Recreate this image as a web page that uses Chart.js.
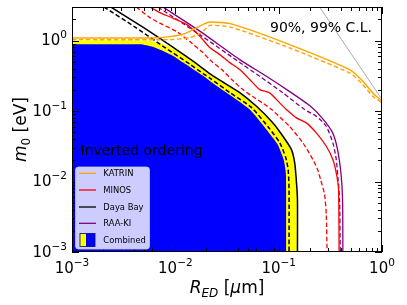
<!DOCTYPE html>
<html>
<head>
<meta charset="utf-8">
<script src="https://cdn.jsdelivr.net/npm/chart.js@4.4.1/dist/chart.umd.min.js"></script>
<style>
  html, body { margin: 0; padding: 0; background: #fff; }
  #wrap { width: 407px; height: 305px; }
</style>
</head>
<body>
<div id="wrap"><canvas id="chart" width="407" height="305"></canvas></div>
<script>
// ─── Data (R_ED in µm, m0 in eV) ─────────────────────────────
const xTickExps = [-3, -2, -1, 0];
const yTickExps = [-3, -2, -1, 0];

const katrin99R = [0.001, 0.00567, 0.00885, 0.01236, 0.01542, 0.01845, 0.02153, 0.0349, 0.1276, 0.485, 0.630, 0.815, 1.0];
const katrin99M = [1.092, 1.092, 1.14, 1.257, 1.48, 1.687, 1.84, 1.726, 0.878, 0.388, 0.280, 0.181, 0.138];
const katrin90R = [0.001, 0.00885, 0.0138, 0.01726, 0.01928, 0.02153, 0.0349, 0.1276, 0.485, 0.630, 0.815, 1.0];
const katrin90M = [1.033, 1.033, 1.103, 1.257, 1.432, 1.648, 1.544, 0.788, 0.348, 0.251, 0.162, 0.132];

const minos99R = [0.00567, 0.00708, 0.00946, 0.01291, 0.01725, 0.02154, 0.02692, 0.03363, 0.042, 0.05246, 0.06553, 0.08185, 0.1023, 0.1187, 0.1483, 0.1852, 0.2313, 0.2889, 0.3345, 0.3634, 0.38, 0.3842];
const minos99M = [3.0, 2.496, 2.085, 1.686, 1.151, 0.796, 0.633, 0.487, 0.388, 0.280, 0.2018, 0.1812, 0.1307, 0.105, 0.0801, 0.068, 0.0491, 0.0317, 0.0205, 0.01257, 0.0077, 0.001];
const minos90R = [0.0042, 0.00567, 0.00757, 0.01034, 0.01381, 0.01844, 0.02253, 0.02813, 0.03515, 0.0449, 0.05608, 0.07004, 0.08558, 0.1278, 0.1717, 0.2145, 0.238, 0.2545, 0.2782, 0.2889, 0.2941];
const minos90M = [3.0, 2.12, 1.686, 1.342, 0.968, 0.676, 0.504, 0.388, 0.280, 0.2018, 0.1606, 0.1299, 0.105, 0.0603, 0.0354, 0.0205, 0.0148, 0.01068, 0.00654, 0.0034, 0.001];

const dayaBay99R = [0.00238, 0.00485, 0.00885, 0.01603, 0.02153, 0.0269, 0.042, 0.061, 0.0881, 0.110, 0.133, 0.143, 0.148, 0.152, 0.152];
const dayaBay99M = [3.0, 1.554, 0.863, 0.472, 0.340, 0.275, 0.183, 0.117, 0.068, 0.044, 0.0284, 0.0184, 0.0107, 0.0056, 0.001];
const dayaBay90R = [0.00204, 0.00415, 0.00793, 0.0138, 0.01858, 0.0216, 0.0337, 0.0548, 0.080, 0.1023, 0.117, 0.1236, 0.126, 0.126];
const dayaBay90M = [3.0, 1.53, 0.796, 0.464, 0.340, 0.293, 0.183, 0.112, 0.0583, 0.0357, 0.0219, 0.0148, 0.0077, 0.001];

const raaKi99R = [0.00757, 0.01725, 0.042, 0.07607, 0.1278, 0.1993, 0.2661, 0.3323, 0.3715, 0.4017, 0.4154, 0.4182];
const raaKi99M = [3.0, 1.364, 0.5375, 0.3116, 0.189, 0.1197, 0.0783, 0.0495, 0.02844, 0.01257, 0.00555, 0.001];
const raaKi90R = [0.00678, 0.01725, 0.0449, 0.06553, 0.11, 0.1784, 0.2313, 0.2889, 0.3345, 0.361, 0.3757, 0.3885, 0.3946];
const raaKi90M = [3.0, 1.216, 0.4566, 0.3116, 0.1812, 0.105, 0.0844, 0.0609, 0.0354, 0.0205, 0.01068, 0.00555, 0.001];

const combined99R = [0.001, 0.00519, 0.00678, 0.00848, 0.01104, 0.0138, 0.01603, 0.02153, 0.0269, 0.042, 0.061, 0.0876, 0.1093, 0.1315, 0.1416, 0.147, 0.1503, 0.1503];
const combined99M = [1.01, 1.0, 0.937, 0.836, 0.676, 0.545, 0.47, 0.338, 0.274, 0.182, 0.116, 0.0675, 0.0437, 0.0284, 0.0184, 0.0107, 0.0056, 0.001];
const combined90R = [0.001, 0.00454, 0.0061, 0.00762, 0.00953, 0.01189, 0.01486, 0.01858, 0.02153, 0.0337, 0.0525, 0.076, 0.0977, 0.1117, 0.117, 0.1186, 0.1186];
const combined90M = [0.886, 0.886, 0.814, 0.714, 0.607, 0.488, 0.392, 0.316, 0.268, 0.169, 0.105, 0.0547, 0.0335, 0.0205, 0.01387, 0.0077, 0.001];

const grayR = [0.249, 1.0];
const grayM = [3.0, 0.146];

const legendItems = [
  { label: 'KATRIN', color: '#ffa500' },
  { label: 'MINOS', color: '#ff0000' },
  { label: 'Daya Bay', color: '#000000' },
  { label: 'RAA-KI', color: '#800080' },
  { label: 'Combined', color: null }
];

// ─── Helpers ─────────────────────────────────────────────────
const FONT = '"DejaVu Sans", sans-serif';
const pts = (xs, ys) => xs.map((x, i) => ({ x, y: ys[i] }));

function lineSet(xs, ys, color, dashed, width) {
  return {
    data: pts(xs, ys),
    borderColor: color,
    borderWidth: width || 1.3,
    borderDash: dashed ? [4.5, 2.5] : [],
    pointRadius: 0,
    fill: false,
    tension: 0.2,
    order: 1
  };
}

function areaSet(xs, ys, color, order) {
  return {
    data: pts(xs, ys),
    borderColor: 'rgba(0,0,0,0)',
    borderWidth: 0,
    backgroundColor: color,
    pointRadius: 0,
    fill: 'start',
    tension: 0.2,
    order
  };
}

// draw a sequence of text runs (mixed fonts / sub / superscripts)
function drawRuns(ctx, runs, x, y, align) {
  let total = 0;
  runs.forEach(r => { ctx.font = r.font; r.w = ctx.measureText(r.t).width; total += r.w; });
  let cx = align === 'center' ? x - total / 2 : align === 'right' ? x - total : x;
  ctx.textAlign = 'left';
  ctx.textBaseline = 'alphabetic';
  runs.forEach(r => {
    ctx.font = r.font;
    ctx.fillText(r.t, cx, y + (r.dy || 0));
    cx += r.w;
  });
}

function powRuns(e) {
  const exp = e < 0 ? '\u2212' + Math.abs(e) : String(e);
  return [
    { t: '10', font: `15px ${FONT}` },
    { t: exp, font: `10.5px ${FONT}`, dy: -7 }
  ];
}

// ─── Decorations: frame, inward ticks, labels, texts, legend ──
const decor = {
  id: 'decor',
  beforeDraw(chart) {
    const ctx = chart.ctx;
    ctx.save();
    ctx.fillStyle = '#fff';
    ctx.fillRect(0, 0, chart.width, chart.height);
    ctx.restore();
  },
  afterDraw(chart) {
    const { ctx, chartArea: a, scales: { x, y } } = chart;
    ctx.save();
    ctx.strokeStyle = '#000';
    ctx.fillStyle = '#000';
    ctx.lineWidth = 1;

    // ticks
    ctx.beginPath();
    for (let d = -3; d <= 0; d++) {
      for (let k = 1; k <= 9; k++) {
        const v = k * Math.pow(10, d);
        const len = k === 1 ? 7 : 4;
        if (v >= x.min && v <= x.max) {
          const px = Math.round(x.getPixelForValue(v)) + 0.5;
          ctx.moveTo(px, a.bottom); ctx.lineTo(px, a.bottom - len);
          ctx.moveTo(px, a.top); ctx.lineTo(px, a.top + len);
        }
        if (v >= y.min && v <= y.max) {
          const py = Math.round(y.getPixelForValue(v)) + 0.5;
          ctx.moveTo(a.left, py); ctx.lineTo(a.left + len, py);
          ctx.moveTo(a.right, py); ctx.lineTo(a.right - len, py);
        }
      }
    }
    ctx.stroke();

    // frame
    ctx.strokeRect(a.left + 0.5, a.top + 0.5, a.right - a.left - 1, a.bottom - a.top - 1);

    // tick labels
    xTickExps.forEach(e => {
      const px = x.getPixelForValue(Math.pow(10, e));
      drawRuns(ctx, powRuns(e), px, a.bottom + 21, 'center');
    });
    yTickExps.forEach(e => {
      const py = y.getPixelForValue(Math.pow(10, e));
      drawRuns(ctx, powRuns(e), a.left - 5, py + 4.5, 'right');
    });

    // axis titles
    drawRuns(ctx, [
      { t: 'R', font: `italic 17px ${FONT}` },
      { t: 'ED', font: `italic 12px ${FONT}`, dy: 3.5 },
      { t: ' [', font: `17px ${FONT}` },
      { t: '\u03bc', font: `italic 17px ${FONT}` },
      { t: 'm]', font: `17px ${FONT}` }
    ], (a.left + a.right) / 2, 293, 'center');

    ctx.save();
    ctx.translate(26, (a.top + a.bottom) / 2);
    ctx.rotate(-Math.PI / 2);
    drawRuns(ctx, [
      { t: 'm', font: `italic 17px ${FONT}` },
      { t: '0', font: `12px ${FONT}`, dy: 3.5 },
      { t: ' [eV]', font: `17px ${FONT}` }
    ], 0, 0, 'center');
    ctx.restore();

    // annotations
    ctx.font = `14px ${FONT}`;
    ctx.textAlign = 'left';
    ctx.fillText('90%, 99% C.L.', 270, 31.5);
    ctx.fillText('Inverted ordering', 80.5, 155);

    // legend
    const lx = 75, ly = 166.5, lw = 74, lh = 82;
    ctx.beginPath();
    ctx.roundRect(lx + 0.5, ly + 0.5, lw, lh, 3);
    ctx.fillStyle = 'rgba(255,255,255,0.8)';
    ctx.fill();
    ctx.strokeStyle = 'rgba(204,204,204,0.8)';
    ctx.stroke();

    const rowY = [173.3, 190, 207, 223.3, 240];
    ctx.font = `8.4px ${FONT}`;
    legendItems.forEach((it, i) => {
      const cy = rowY[i];
      if (it.color) {
        ctx.strokeStyle = it.color;
        ctx.lineWidth = 1.3;
        ctx.beginPath();
        ctx.moveTo(79, cy); ctx.lineTo(96, cy);
        ctx.stroke();
      } else {
        ctx.fillStyle = '#ffff00';
        ctx.fillRect(80, cy - 6.5, 6, 13);
        ctx.fillStyle = '#0000ff';
        ctx.fillRect(86, cy - 6.5, 9, 13);
        ctx.strokeStyle = '#000080';
        ctx.lineWidth = 0.8;
        ctx.strokeRect(80, cy - 6.5, 15, 13);
      }
      ctx.fillStyle = '#000';
      ctx.fillText(it.label, 103.3, cy + 3);
    });
    ctx.restore();
  }
};

// ─── Chart ───────────────────────────────────────────────────
new Chart(document.getElementById('chart'), {
  type: 'line',
  data: {
    datasets: [
      lineSet(grayR, grayM, '#aaaaaa', false, 1),
      lineSet(katrin99R, katrin99M, '#ffa500', false, 1.4),
      lineSet(katrin90R, katrin90M, '#ffa500', true, 1.4),
      lineSet(minos99R, minos99M, '#ff0000', false),
      lineSet(minos90R, minos90M, '#ff0000', true),
      lineSet(raaKi99R, raaKi99M, '#800080', false),
      lineSet(raaKi90R, raaKi90M, '#800080', true),
      lineSet(dayaBay99R, dayaBay99M, '#000000', false, 1.5),
      lineSet(dayaBay90R, dayaBay90M, '#000000', true, 1.5),
      areaSet(combined90R, combined90M, '#0000ff', 2),
      areaSet(combined99R, combined99M, '#ffff00', 3)
    ]
  },
  options: {
    responsive: false,
    devicePixelRatio: 1,
    animation: false,
    parsing: true,
    layout: { padding: { left: 72, right: 25, top: 7, bottom: 53 } },
    plugins: { legend: { display: false }, tooltip: { enabled: false } },
    scales: {
      x: { type: 'logarithmic', min: 0.001, max: 1, display: false },
      y: { type: 'logarithmic', min: 0.001, max: 3, display: false }
    }
  },
  plugins: [decor]
});
</script>
</body>
</html>
